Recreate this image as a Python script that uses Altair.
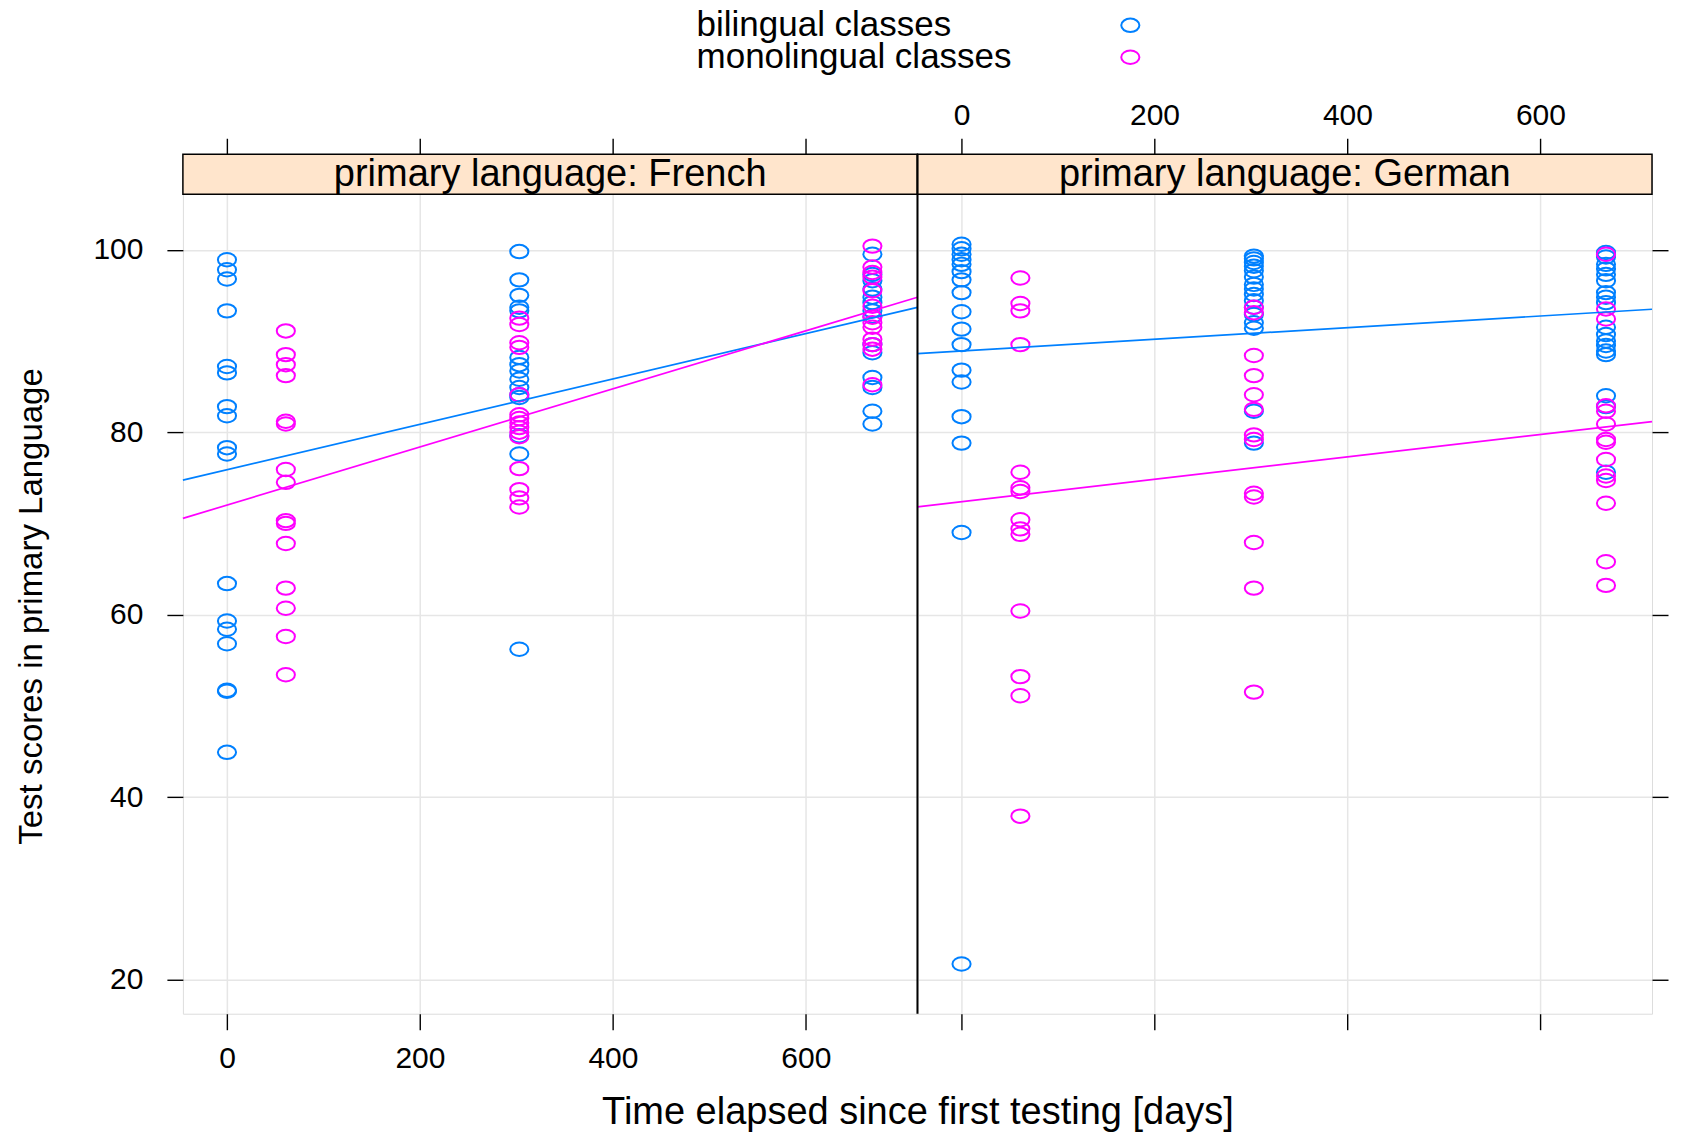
import altair as alt
import pandas as pd

FONT = "Liberation Sans"
BLUE = "#0080ff"
PINK = "#ff00ff"
STRIP_FILL = "#ffe5cc"
GRID = "#e6e6e6"

group_names = ["bilingual classes", "monolingual classes"]
languages = ["French", "German"]
strip_labels = ["primary language: French", "primary language: German"]
x_ticks = [0, 200, 400, 600]
y_ticks = [20, 40, 60, 80, 100]
x_title = "Time elapsed since first testing [days]"
y_title = "Test scores in primary Language"

# ---- French, bilingual classes ----
fr_bi_d0 = [98.9, 97.8, 96.8, 93.3, 87.2, 86.5, 82.8, 81.8, 78.3, 77.6,
            63.4, 59.3, 58.4, 56.8, 51.7, 51.6, 44.9]
fr_bi_d303 = [99.8, 96.7, 95.0, 93.7, 93.3, 88.2, 87.4, 86.7, 85.8, 84.9,
              84.1, 83.8, 79.6, 77.6, 56.2]
fr_bi_d669 = [99.5, 97.3, 96.6, 95.7, 94.8, 94.2, 93.3, 92.7, 89.6, 88.7,
              86.0, 84.9, 82.3, 80.9]
# ---- French, monolingual classes ----
fr_mo_d61 = [91.1, 88.5, 87.4, 86.2, 81.2, 80.9, 75.9, 74.5, 70.3, 70.0,
             67.8, 62.9, 60.7, 57.6, 53.4]
fr_mo_d303 = [92.5, 91.8, 89.8, 89.3, 84.1, 81.9, 81.5, 81.0, 80.5, 80.0,
              79.5, 76.0, 73.7, 72.8, 71.8]
fr_mo_d669 = [100.4, 98.1, 97.5, 97.0, 95.5, 93.8, 92.6, 92.0, 91.5, 90.2,
              89.6, 89.1, 85.2]
# ---- German, bilingual classes ----
de_bi_d0 = [100.6, 100.1, 99.5, 98.9, 98.4, 97.6, 96.7, 95.3, 93.2, 91.3,
            89.6, 86.8, 85.5, 81.7, 78.8, 69.0, 21.7]
de_bi_d303 = [99.3, 99.0, 98.6, 98.2, 97.7, 97.0, 96.2, 95.7, 95.1, 94.4,
              93.7, 92.9, 92.0, 91.4, 82.3, 78.8]
de_bi_d668 = [99.7, 99.2, 98.4, 97.9, 97.3, 96.6, 95.3, 94.8, 94.2, 91.5,
              90.7, 90.0, 89.5, 88.9, 88.5, 84.0, 82.8, 75.6]
# ---- German, monolingual classes ----
de_mo_d61 = [96.9, 94.1, 93.3, 89.6, 75.6, 73.9, 73.5, 70.4, 69.4, 68.8,
             60.4, 53.2, 51.1, 37.9]
de_mo_d303 = [93.7, 93.1, 88.4, 86.2, 84.1, 82.5, 79.7, 79.2, 73.3, 72.9,
              67.9, 62.9, 51.5]
de_mo_d668 = [99.5, 93.5, 92.4, 82.9, 82.3, 80.9, 79.2, 78.9, 77.0, 75.2,
              74.7, 72.2, 65.8, 63.2]

series = [
    ("French", group_names[0], 0, fr_bi_d0),
    ("French", group_names[0], 303, fr_bi_d303),
    ("French", group_names[0], 669, fr_bi_d669),
    ("French", group_names[1], 61, fr_mo_d61),
    ("French", group_names[1], 303, fr_mo_d303),
    ("French", group_names[1], 669, fr_mo_d669),
    ("German", group_names[0], 0, de_bi_d0),
    ("German", group_names[0], 303, de_bi_d303),
    ("German", group_names[0], 668, de_bi_d668),
    ("German", group_names[1], 61, de_mo_d61),
    ("German", group_names[1], 303, de_mo_d303),
    ("German", group_names[1], 668, de_mo_d668),
]
rows = []
for lang, grp, day, vals in series:
    for v in vals:
        rows.append({"lang": lang, "group": grp, "days": day, "score": v})
df = pd.DataFrame(rows)

W, H, STRIP = 735, 860, 40
XDOM = [-45.7, 715.7]
YDOM = [16.24, 110.47]
ELLIPSE = "M -1 0 A 1 0.74 0 1 0 1 0 A 1 0.74 0 1 0 -1 0 Z"
PT_SIZE = 330

xscale = alt.Scale(domain=XDOM, nice=False, zero=False)
yscale = alt.Scale(domain=YDOM, nice=False, zero=False)
color = alt.Color("group:N", scale=alt.Scale(domain=group_names, range=[BLUE, PINK]),
                  legend=None)

common = dict(domain=False, tickColor="black", tickWidth=1.4, tickSize=16,
              labelFont=FONT, labelFontSize=30, labelColor="black",
              gridColor=GRID, gridWidth=1.5, titleFont=FONT, titleColor="black",
              titleFontWeight="normal")


def panel(idx):
    lang = languages[idx]
    d = df[df["lang"] == lang]
    if idx == 0:
        x_main = alt.Axis(orient="bottom", values=x_ticks, grid=True, labels=True,
                          labelPadding=14, format="d", title=x_title,
                          titleFontSize=38, titleX=W, titlePadding=20, **common)
        x_other = alt.Axis(orient="top", values=x_ticks, grid=False, labels=False,
                           title=None, **common)
        y_main = alt.Axis(orient="left", values=y_ticks, grid=True, labels=True,
                          labelPadding=24, title=y_title, titleFontSize=33,
                          titleY=452, titlePadding=44, **common)
    else:
        x_main = alt.Axis(orient="top", values=x_ticks, grid=True, labels=True,
                          labelPadding=8, format="d", title=None, **common)
        x_other = alt.Axis(orient="bottom", values=x_ticks, grid=False, labels=False,
                           title=None, **common)
        y_main = alt.Axis(orient="right", values=y_ticks, grid=True, labels=False,
                          title=None, **common)

    pts = alt.Chart(d).mark_point(shape=ELLIPSE, filled=False, size=PT_SIZE,
                                  strokeWidth=2.0, opacity=1).encode(
        x=alt.X("days:Q", scale=xscale, axis=x_main),
        y=alt.Y("score:Q", scale=yscale, axis=y_main),
        color=color,
    )
    lines = alt.Chart(d).transform_regression(
        "days", "score", groupby=["group"], extent=XDOM
    ).mark_line(strokeWidth=1.7).encode(
        x=alt.X("days:Q", scale=xscale, axis=x_other),
        y=alt.Y("score:Q", scale=yscale, axis=None),
        color=color,
    )
    sdf = pd.DataFrame({"label": [strip_labels[idx]]})
    strip_rect = alt.Chart(sdf).mark_rect(fill=STRIP_FILL, stroke="black",
                                          strokeWidth=1.5).encode(
        x=alt.value(0), x2=alt.value(W), y=alt.value(0), y2=alt.value(STRIP))
    strip_text = alt.Chart(sdf).mark_text(font=FONT, fontSize=38, color="black",
                                          baseline="alphabetic", align="center").encode(
        x=alt.value(W / 2), y=alt.value(32), text="label:N")
    layers = [pts, lines, strip_rect, strip_text]
    if idx == 1:
        divider = alt.Chart(sdf).mark_rule(color="black", strokeWidth=2).encode(
            x=alt.value(0), y=alt.value(0), y2=alt.value(H))
        layers.append(divider)
    return alt.layer(*layers).resolve_axis(
        x="independent", y="independent").properties(width=W, height=H)


ldf = pd.DataFrame({"group": group_names})
ly = alt.Y("group:N", axis=None,
           scale=alt.Scale(type="point", domain=group_names, range=[14, 46], padding=0))
leg_text = alt.Chart(ldf).mark_text(font=FONT, fontSize=35, color="black",
                                    align="left", baseline="middle").encode(
    x=alt.value(514), y=ly, text="group:N")
leg_pts = alt.Chart(ldf).mark_point(shape=ELLIPSE, filled=False, size=PT_SIZE,
                                    strokeWidth=2.0, opacity=1).encode(
    x=alt.value(948), y=ly, color=color)
legend = alt.layer(leg_text, leg_pts).properties(
    width=1400, height=60, view=alt.ViewBackground(strokeOpacity=0))

panels = alt.hconcat(panel(0), panel(1), spacing=0, bounds="flush")
chart = alt.vconcat(legend, panels, spacing=24).properties(
    padding={"left": 7, "right": 5, "top": 0, "bottom": 0}
).configure_view(stroke="black", strokeWidth=1.5).configure(background="white")

chart.save("out.html", embed_options={"renderer": "svg", "actions": False})
